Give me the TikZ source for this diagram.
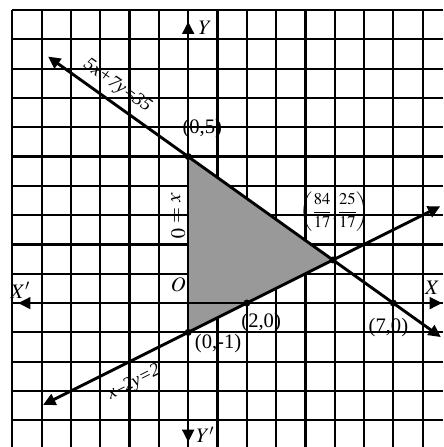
\documentclass[tikz,border=0pt]{standalone}
\usepackage{mathptmx}
\usepackage[no-math]{fontspec}
\setmainfont{Liberation Serif}
\usetikzlibrary{arrows.meta}

\begin{document}
\begin{tikzpicture}[>={Triangle[length=4.2mm,width=4mm]},
 gl/.style={line width=2.1pt,black},
 ax/.style={<->,line width=2.4pt,black},
 ln/.style={<->,line width=2.8pt,black},
 lb/.style={inner sep=1pt,font=\fontsize{20}{22}\selectfont},
 eq/.style={inner sep=1pt,font=\fontsize{18}{20}\selectfont\itshape}]
\useasboundingbox (-6.42,-4.91) rectangle (8.70,10.34);
\draw[gl] (-6,-4.91) grid (8.70,10);

\coordinate (A) at (0,5);
\coordinate (B) at (84/17,25/17);
\coordinate (C) at (0,-1);
\coordinate (D) at (2,0);
\coordinate (E) at (7,0);
\fill[black!40] (A) -- (B) -- (C) -- cycle;

\coordinate (xl) at (-5.8,0);
\coordinate (xr) at (8.66,0);
\coordinate (yt) at (0,9.6);
\coordinate (yb) at (0,-4.74);
\coordinate (p1) at (-4.78,8.41);
\coordinate (p2) at (8.62,-1.16);
\coordinate (q1) at (-4.95,-3.475);
\coordinate (q2) at (8.6,3.3);

\draw[ax] (xl) -- (xr);
\draw[ax] (yb) -- (yt);
\draw[ln] (p1) -- (p2);
\draw[ln] (q1) -- (q2);
\foreach \p in {A,B,C,D,E} \fill (\p) circle (0.12);

\node[lb] (lY) at (0.58,9.39) {$Y$};
\node[lb] (lYp) at (0.58,-4.5) {$Y'$};
\node[lb] (lXp) at (-5.73,0.44) {$X'$};
\node[lb] (lX) at (8.33,0.51) {$X$};
\node[lb] (lO) at (-0.34,0.61) {$O$};
\node[lb,rotate=-90] (lx0) at (-0.34,2.97) {$x=0$};
\node[lb] (lA) at (0.48,5.94) {(0,5)};
\node[lb] (lC) at (1.02,-1.37) {(0,-1)};
\node[lb] (lD) at (2.49,-0.68) {(2,0)};
\node[lb] (lE) at (6.83,-0.82) {(7,0)};
\node[inner sep=1pt,font=\fontsize{16}{18}\selectfont] (lB) at (5.0,3.11)
 {$\left(\displaystyle\frac{84}{17},\displaystyle\frac{25}{17}\right)$};
\node[eq,rotate=-35.5] (l1) at (-2.42,7.40) {5x+7y=35};
\node[eq,rotate=26.6] (l2) at (-1.84,-2.72) {x–2y=2};
\end{tikzpicture}
\end{document}
